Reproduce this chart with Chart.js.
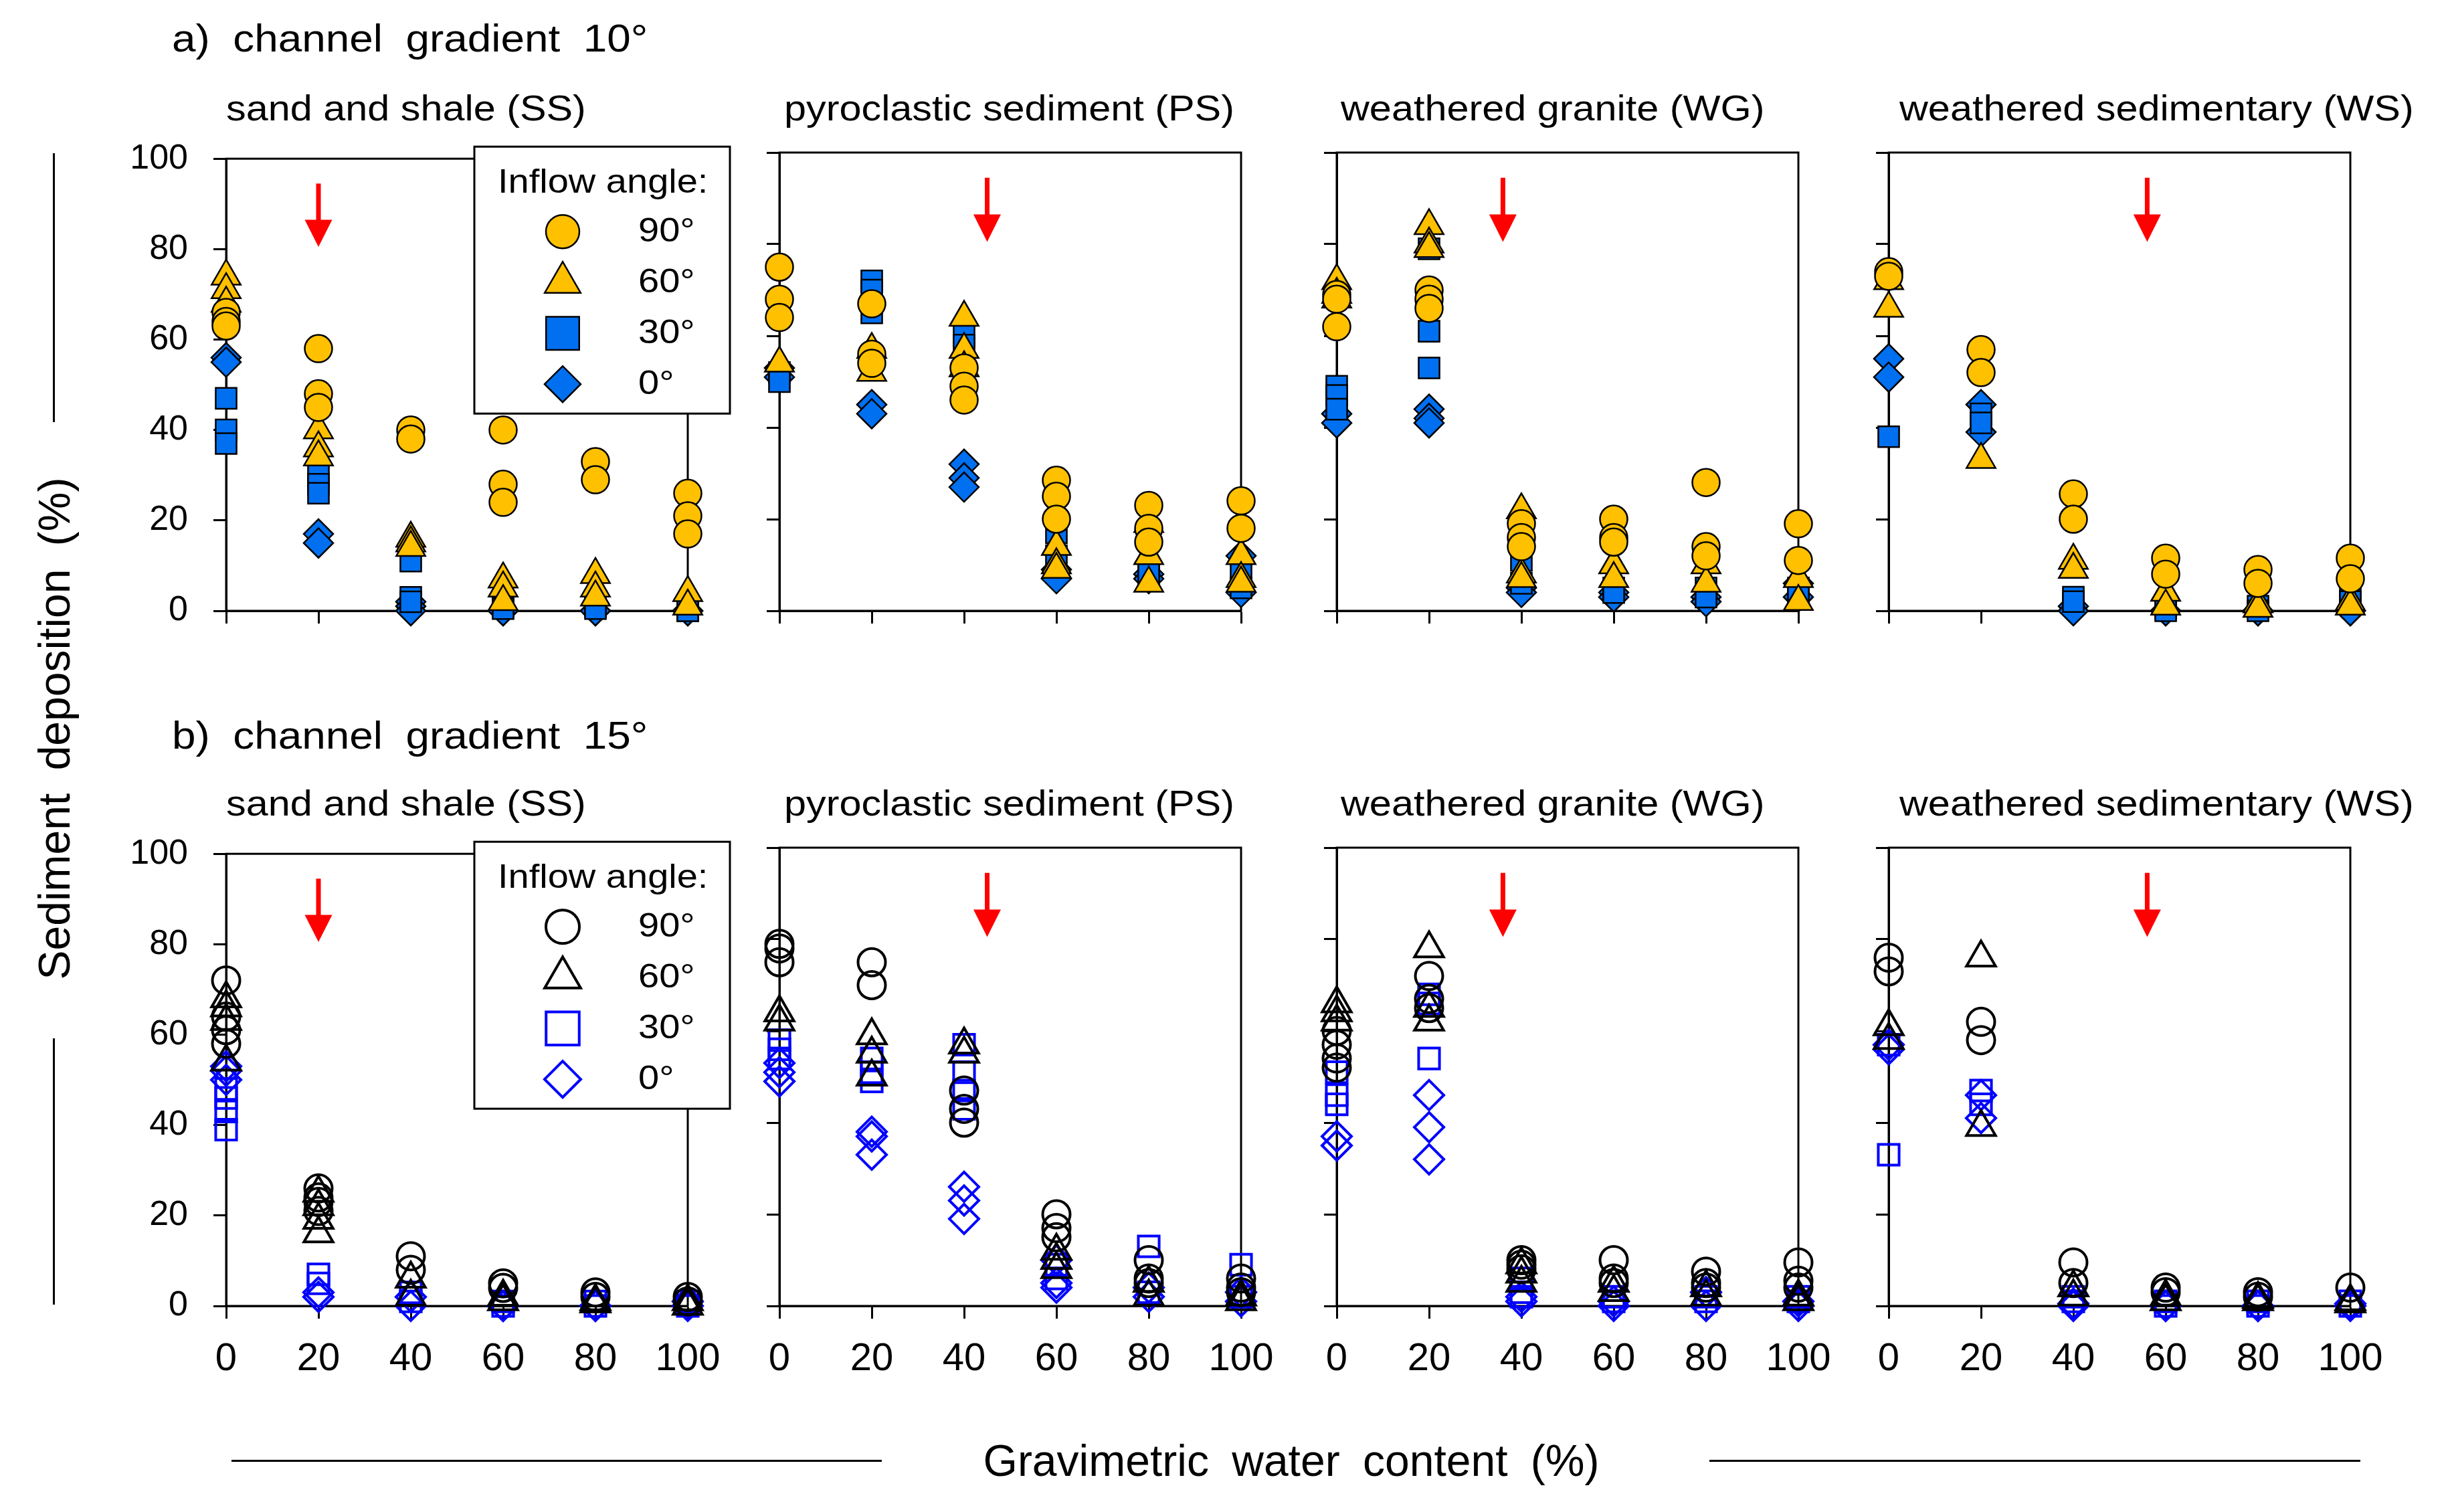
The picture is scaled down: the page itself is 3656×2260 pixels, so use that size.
<!DOCTYPE html>
<html>
<head>
<meta charset="utf-8">
<script src="https://cdn.jsdelivr.net/npm/chart.js@4.4.1/dist/chart.umd.min.js"></script>
<style>
  body { margin: 0; width: 3656px; height: 2260px; position: relative; overflow: hidden; background: #fff;
         font-family: 'Liberation Sans', Arial, sans-serif; color: #000; }
  canvas { position: absolute; }
  .txt { position: absolute; white-space: pre; line-height: 1; transform-origin: 0 0; transform: scaleX(1.12); }
  .rule { position: absolute; background: #000; }
</style>
</head>
<body>

<div class="txt" style="left:257px; top:29px; font-size:57px; word-spacing:15px;">a) channel gradient 10°</div>
<div class="txt" style="left:257px; top:1071px; font-size:57px; word-spacing:15px;">b) channel gradient 15°</div>

<div class="txt" style="left:338px; top:135px; font-size:53px;">sand and shale (SS)</div>
<div class="txt" style="left:1172px; top:135px; font-size:53px;">pyroclastic sediment (PS)</div>
<div class="txt" style="left:2004px; top:135px; font-size:53px;">weathered granite (WG)</div>
<div class="txt" style="left:2839px; top:135px; font-size:53px;">weathered sedimentary (WS)</div>
<div class="txt" style="left:338px; top:1174px; font-size:53px;">sand and shale (SS)</div>
<div class="txt" style="left:1172px; top:1174px; font-size:53px;">pyroclastic sediment (PS)</div>
<div class="txt" style="left:2004px; top:1174px; font-size:53px;">weathered granite (WG)</div>
<div class="txt" style="left:2839px; top:1174px; font-size:53px;">weathered sedimentary (WS)</div>

<!-- shared axis titles with the side rules -->
<div style="position:absolute; left:81px; top:1089px; font-size:66px; word-spacing:16px; white-space:pre; line-height:1;
            transform: translate(-50%,-50%) rotate(-90deg);">Sediment deposition (%)</div>
<div class="rule" style="left:79px; top:229px; width:3px; height:402px;"></div>
<div class="rule" style="left:79px; top:1552px; width:3px; height:398px;"></div>

<div style="position:absolute; left:1930px; top:2183px; font-size:66px; word-spacing:16px; white-space:pre; line-height:1;
            transform: translate(-50%,-50%);">Gravimetric water content (%)</div>
<div class="rule" style="left:346px; top:2182px; width:972px; height:3px;"></div>
<div class="rule" style="left:2555px; top:2182px; width:973px; height:3px;"></div>

<script>
// x values and tick labels
const waterContent = [0, 20, 40, 60, 80, 100];
const depositionTicks = [0, 20, 40, 60, 80, 100];
const inflowAngles = ['90°', '60°', '30°', '0°'];
// x position of the red arrow in each soil column
const arrowX = [20, 45, 36, 56];

// a) channel gradient 10° -- replicates at each water content
const ss10_90 = [[66, 64, 63], [58, 48, 45], [40, 38], [40, 28, 24], [33, 29], [26, 21, 17]];
const ss10_60 = [[74, 71, 68], [40, 36, 34], [16, 15, 14], [7, 5, 2], [8, 5, 3], [4, 1]];
const ss10_30 = [[47, 40, 37], [30, 28, 26], [11, 3, 2], [1, 0.5], [1, 0.5], [0, 0]];
const ss10_0  = [[56, 55], [17, 15], [2, 1, 0], [0, 0], [0, 0], [0, 0]];

const ps10_90 = [[75, 68, 64], [67, 56, 54], [53, 49, 46], [28.5, 25, 20], [23, 18, 15], [24, 18]];
const ps10_60 = [[54], [57, 52], [64, 57, 53], [14, 10, 9], [19, 12, 6], [12, 7, 6]];
const ps10_30 = [[52, 50], [72, 70, 65], [60, 58], [17, 12], [9, 8], [8, 5]];
const ps10_0  = [[53, 51], [45, 43], [32, 29, 27], [9, 7], [8, 7], [12, 4]];

const wg10_90 = [[69, 68, 62], [70, 68, 66], [19, 16, 14], [20, 16, 15], [28, 14, 12], [19, 11]];
const wg10_60 = [[72, 69, 68], [84, 80, 79], [22, 8, 7], [10, 7], [10, 6], [7, 2]];
const wg10_30 = [[49, 47, 44], [79, 61, 53], [11, 6], [5, 4], [5, 3], [5, 4]];
const wg10_0  = [[43, 41], [44, 42, 41], [5, 4], [4, 3], [3, 2], [6, 3]];

const ws10_90 = [[74, 73], [57, 52], [25.5, 20], [11.5, 8], [9, 6], [11.5, 7]];
const ws10_60 = [[72, 66], [33], [11, 9], [4, 1], [1.5, 0.5], [2, 1]];
const ws10_30 = [[38], [43, 41], [3, 2], [0.5, 0], [1, 0], [3, 2]];
const ws10_0  = [[55, 51], [45, 39], [1, 0], [0, 0], [0, 0], [0, 0]];

// b) channel gradient 15°
const ss15_90 = [[72, 64, 61, 58], [26, 24, 23, 21], [11, 8], [5, 4], [3, 2], [2, 1]];
const ss15_60 = [[68, 66, 63, 54], [25, 22, 19, 16], [6, 2], [2, 1], [1, 0.5], [1, 0]];
const ss15_30 = [[48, 46, 43, 39], [7, 5], [3, 1], [1, 0], [1, 0], [1, 0]];
const ss15_0  = [[53, 52, 50], [3, 2], [2, 0], [0, 0], [0, 0], [1, 0]];

const ps15_90 = [[79, 78, 75], [75, 70], [47, 43, 40], [20, 17, 15], [10, 6, 5], [6, 4, 3]];
const ps15_60 = [[64, 62], [59, 55, 50], [57, 55], [12, 10, 8], [5, 2], [2, 1]];
const ps15_30 = [[58, 56, 54], [54, 51, 49], [57, 51, 47, 43], [9, 6], [13, 3], [9, 2]];
const ps15_0  = [[53, 51, 49], [38, 37, 33], [26, 23, 19], [10, 5, 4], [4, 2], [3, 1]];

const wg15_90 = [[60, 57, 54, 52], [72, 67, 65], [10, 9, 8], [10, 6, 5], [7.5, 5, 4], [9.5, 5.5, 4]];
const wg15_60 = [[66, 64, 62], [78, 65, 62], [9, 7, 5], [5, 3], [4, 2], [2, 1]];
const wg15_30 = [[51, 46, 44], [68, 66, 54], [6, 3, 2], [2, 1], [2, 1], [2, 1]];
const wg15_0  = [[37, 35], [46, 39, 32], [2, 1], [1, 0], [3, 0], [1, 0]];

const ws15_90 = [[76, 73], [62, 58], [9.5, 5], [4, 3], [3, 2], [4]];
const ws15_60 = [[61, 58], [76, 39], [4, 2], [2, 1], [1.5, 1], [1, 0.5]];
const ws15_30 = [[57, 33], [47, 44], [2, 1], [1, 0], [1, 0], [1, 0]];
const ws15_0  = [[57, 56], [46, 41], [0.5, 0], [0, 0], [0, 0], [0.5, 0]];

const rows = [
  [[ss10_90, ss10_60, ss10_30, ss10_0], [ps10_90, ps10_60, ps10_30, ps10_0],
   [wg10_90, wg10_60, wg10_30, wg10_0], [ws10_90, ws10_60, ws10_30, ws10_0]],
  [[ss15_90, ss15_60, ss15_30, ss15_0], [ps15_90, ps15_60, ps15_30, ps15_0],
   [wg15_90, wg15_60, wg15_30, wg15_0], [ws15_90, ws15_60, ws15_30, ws15_0]]
];

// layout / styling
const colX0 = [338, 1165, 1998, 2823];
const rowY100 = [228, 1267];
const PAD_L = 140, PAD_T = 60, PAD_R = 80, PAD_B = 130, AREA_W = 690, AREA_H = 685;

const pointStyles = ['circle', 'triangle', 'rect', 'rectRot'];
const pointRadii = [20.5, 25, 22, 22];
const legendRadii = [25, 31, 35, 27];
const rowFill = [['#FFC000', '#FFC000', '#0070F0', '#0070F0'], ['rgba(0,0,0,0)', 'rgba(0,0,0,0)', 'rgba(0,0,0,0)', 'rgba(0,0,0,0)']];
const rowBorder = [['#000', '#000', '#000', '#000'], ['#000', '#000', '#0000FF', '#0000FF']];
const rowBorderWidth = [2.5, 4];

Chart.defaults.font.family = "'Liberation Sans', Arial, sans-serif";
Chart.defaults.color = '#000';

function stretchedText(ctx, text, x, capMid, size) {
  ctx.save();
  ctx.translate(x, capMid + 0.358 * size);
  ctx.scale(1.12, 1);
  ctx.font = size + "px 'Liberation Sans', Arial, sans-serif";
  ctx.fillStyle = '#000';
  ctx.textBaseline = 'alphabetic';
  ctx.fillText(text, 0, 0);
  ctx.restore();
}

// box round the plot area
const framePlugin = {
  id: 'frame',
  beforeDatasetsDraw(chart) {
    const { ctx, chartArea: a } = chart;
    ctx.save();
    ctx.strokeStyle = '#000';
    ctx.lineWidth = 3;
    ctx.strokeRect(a.left, a.top, a.right - a.left, a.bottom - a.top);
    ctx.restore();
  }
};

// red arrow marking a water content
const arrowPlugin = {
  id: 'arrow',
  afterDatasetsDraw(chart, args, o) {
    const { ctx, scales: { x, y } } = chart;
    const px = x.getPixelForValue(o.at);
    const top = y.getPixelForValue(94.5), base = y.getPixelForValue(86.5), tip = y.getPixelForValue(80.5);
    ctx.save();
    ctx.fillStyle = '#FF0000';
    ctx.fillRect(px - 3.5, top, 7, base - top + 1);
    ctx.beginPath();
    ctx.moveTo(px - 20.5, base);
    ctx.lineTo(px + 20.5, base);
    ctx.lineTo(px, tip);
    ctx.closePath();
    ctx.fill();
    ctx.restore();
  }
};

// "Inflow angle:" legend box
const legendPlugin = {
  id: 'inflowLegend',
  afterDraw(chart, args, o) {
    if (!o.show) return;
    const { ctx, chartArea: a } = chart;
    const bx = a.left + 371, by = a.top - 18, bw = 382, bh = 399;
    ctx.save();
    ctx.fillStyle = '#fff';
    ctx.fillRect(bx, by, bw, bh);
    ctx.strokeStyle = '#000';
    ctx.lineWidth = 3;
    ctx.strokeRect(bx, by, bw, bh);
    stretchedText(ctx, 'Inflow angle:', bx + 35, by + 51, 50);
    chart.data.datasets.forEach((ds, i) => {
      const cy = by + 127 + i * 76;
      ctx.fillStyle = ds.pointBackgroundColor;
      ctx.strokeStyle = ds.pointBorderColor;
      ctx.lineWidth = ds.pointBorderWidth;
      Chart.helpers.drawPoint(ctx, { pointStyle: ds.pointStyle, radius: legendRadii[i], rotation: 0, borderWidth: ds.pointBorderWidth }, bx + 132, cy);
      stretchedText(ctx, ds.label, bx + 245, cy - 3, 50);
    });
    ctx.restore();
  }
};

function makePanel(row, col) {
  const cv = document.createElement('canvas');
  cv.width = PAD_L + AREA_W + PAD_R;
  cv.height = PAD_T + AREA_H + PAD_B;
  cv.style.left = (colX0[col] - PAD_L) + 'px';
  cv.style.top = (rowY100[row] - PAD_T) + 'px';
  document.body.appendChild(cv);

  const datasets = rows[row][col].map((series, k) => ({
    label: inflowAngles[k],
    data: series.flatMap((vals, i) => vals.map(v => ({ x: waterContent[i], y: v }))),
    showLine: false,
    clip: false,
    pointStyle: pointStyles[k],
    pointRadius: pointRadii[k],
    pointHoverRadius: pointRadii[k],
    pointBackgroundColor: rowFill[row][k],
    pointBorderColor: rowBorder[row][k],
    pointBorderWidth: rowBorderWidth[row]
  }));

  new Chart(cv, {
    type: 'scatter',
    data: { datasets },
    plugins: [framePlugin, arrowPlugin, legendPlugin],
    options: {
      responsive: false,
      animation: false,
      events: [],
      devicePixelRatio: 1,
      layout: { autoPadding: false, padding: { left: 0, top: PAD_T, right: PAD_R, bottom: 0 } },
      plugins: {
        legend: { display: false },
        tooltip: { enabled: false },
        arrow: { at: arrowX[col] },
        inflowLegend: { show: col === 0 }
      },
      scales: {
        x: {
          type: 'linear', min: 0, max: 100,
          afterBuildTicks: s => { s.ticks = waterContent.map(v => ({ value: v })); },
          afterFit: s => { s.height = PAD_B; },
          grid: { drawOnChartArea: false, drawTicks: true, tickLength: 19, tickWidth: 3, tickColor: '#000' },
          border: { display: true, color: '#000', width: 3 },
          ticks: { display: row === 1, color: '#000', font: { size: 58 }, padding: 26, maxRotation: 0, autoSkip: false }
        },
        y: {
          type: 'linear', min: 0, max: 100,
          afterBuildTicks: s => { s.ticks = depositionTicks.map(v => ({ value: v })); },
          afterFit: s => { s.width = PAD_L; },
          grid: { drawOnChartArea: false, drawTicks: true, tickLength: 19, tickWidth: 3, tickColor: '#000' },
          border: { display: true, color: '#000', width: 3 },
          ticks: { display: col === 0, color: '#000', font: { size: 52 }, padding: 38 }
        }
      }
    }
  });
}

for (let r = 0; r < 2; r++) {
  for (let c = 0; c < 4; c++) makePanel(r, c);
}
</script>
</body>
</html>
